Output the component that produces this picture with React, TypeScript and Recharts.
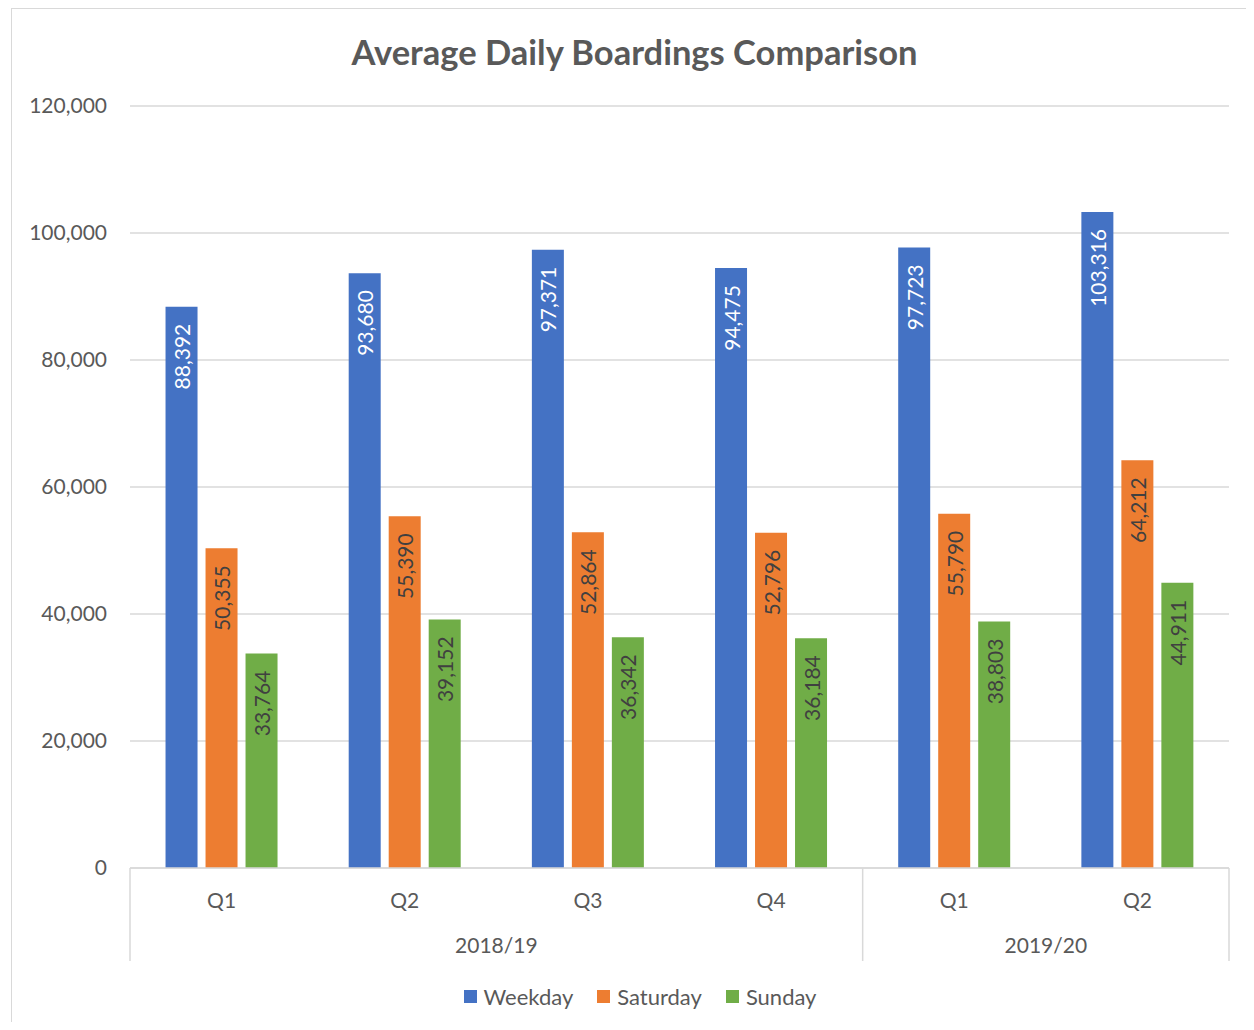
import React from 'react';
import { BarChart, Bar, XAxis, YAxis, CartesianGrid, LabelList, Legend } from 'recharts';

const quarters = ['Q1', 'Q2', 'Q3', 'Q4', 'Q1', 'Q2'];
const fiscalYears = ['2018/19', '2018/19', '2018/19', '2018/19', '2019/20', '2019/20'];
const weekday = [88392, 93680, 97371, 94475, 97723, 103316];
const saturday = [50355, 55390, 52864, 52796, 55790, 64212];
const sunday = [33764, 39152, 36342, 36184, 38803, 44911];
const yTicks = [0, 20000, 40000, 60000, 80000, 100000, 120000];
const seriesNames = ['Weekday', 'Saturday', 'Sunday'];
const seriesColors = ['#4472C4', '#ED7D31', '#70AD47'];
const labelColors = ['#FFFFFF', '#404040', '#404040'];
const title = 'Average Daily Boardings Comparison';

const FONT = "Lato, 'Open Sans', sans-serif";
const TXT = '#595959';
const GRID = '#d9d9d9';
const Q_AXIS_H = 50;
const Y_AXIS_H = 45;

const data = quarters.map((q, i) => ({
  key: `${fiscalYears[i]} ${q}`,
  quarter: q,
  pos: i + 0.5,
  Weekday: weekday[i],
  Saturday: saturday[i],
  Sunday: sunday[i],
}));

const groups: { label: string; start: number; end: number }[] = [];
fiscalYears.forEach((y, i) => {
  const last = groups[groups.length - 1];
  if (last && last.label === y) last.end = i + 1;
  else groups.push({ label: y, start: i, end: i + 1 });
});
const boundaryTicks = [0, ...groups.map((g) => g.end)];
const centerTicks = groups.map((g) => (g.start + g.end) / 2);
const yearTicks = [...boundaryTicks, ...centerTicks].sort((a, b) => a - b);

const fmt = (v: number) => Number(v).toLocaleString('en-US');

const makeLabel = (color: string) => (props: any) => {
  const { x, y, width, value } = props;
  const cx = Number(x) + Number(width) / 2;
  const ty = Number(y) + 17;
  return (
    <text
      x={cx}
      y={ty}
      transform={`rotate(-90 ${cx} ${ty})`}
      textAnchor="end"
      dominantBaseline="central"
      fill={color}
      fontSize={21}
      fontFamily={FONT}
    >
      {fmt(value)}
    </text>
  );
};

const QuarterTick = (props: any) => {
  const { x, y, payload } = props;
  const row = data.find((d) => d.key === payload.value);
  return (
    <text x={x} y={y + 39.5} textAnchor="middle" fill={TXT} fontSize={21} fontFamily={FONT}>
      {row ? row.quarter : ''}
    </text>
  );
};

const YearTick = (props: any) => {
  const { x, y, payload } = props;
  const v = payload.value;
  if (boundaryTicks.includes(v)) {
    return <line x1={x} x2={x} y1={y - Q_AXIS_H} y2={y + 43} stroke={GRID} strokeWidth={1.5} />;
  }
  const g = groups.find((gg) => (gg.start + gg.end) / 2 === v);
  return (
    <text x={x} y={y + 35} textAnchor="middle" fill={TXT} fontSize={21} fontFamily={FONT}>
      {g ? g.label : ''}
    </text>
  );
};

const LegendContent = () => (
  <div
    style={{
      display: 'flex',
      justifyContent: 'center',
      alignItems: 'center',
      height: 30,
      fontFamily: FONT,
      fontSize: 22,
      color: TXT,
    }}
  >
    {seriesNames.map((n, i) => (
      <div key={n} style={{ display: 'flex', alignItems: 'center', marginRight: i < seriesNames.length - 1 ? 24 : 0 }}>
        <span style={{ width: 13, height: 13, background: seriesColors[i], display: 'inline-block', marginRight: 7 }} />
        <span>{n}</span>
      </div>
    ))}
  </div>
);

export default function App() {
  const W = 1246;
  const H = 1014;
  return (
    <div style={{ position: 'relative', width: W, height: H, background: '#fff' }}>
      <div
        style={{
          position: 'absolute',
          left: 3,
          top: 0,
          width: W - 3,
          height: H,
          borderLeft: `1px solid ${GRID}`,
          borderTop: `1px solid ${GRID}`,
          boxSizing: 'border-box',
        }}
      />
      <div
        style={{
          position: 'absolute',
          left: 626.5,
          top: 43,
          transform: 'translate(-50%, -50%)',
          whiteSpace: 'nowrap',
          fontFamily: FONT,
          fontWeight: 700,
          fontSize: 34.5,
          color: TXT,
        }}
      >
        {title}
      </div>
      <BarChart
        width={W}
        height={H}
        data={data}
        margin={{ top: 98, right: 25, left: 0, bottom: H - 860 - Q_AXIS_H - Y_AXIS_H }}
        barCategoryGap="19.4%"
        barGap={8}
      >
        <CartesianGrid vertical={false} stroke={GRID} strokeWidth={1.3} />
        <YAxis
          width={122}
          domain={[0, 120000]}
          ticks={yTicks}
          tickFormatter={fmt}
          axisLine={false}
          tickLine={false}
          tickSize={0}
          tickMargin={23}
          tick={{ fill: TXT, fontSize: 21, fontFamily: FONT }}
          interval={0}
        />
        <XAxis
          dataKey="key"
          height={Q_AXIS_H}
          interval={0}
          tickLine={false}
          tickSize={0}
          tickMargin={0}
          axisLine={{ stroke: GRID, strokeWidth: 1.5 }}
          tick={<QuarterTick />}
        />
        <XAxis
          xAxisId="year"
          type="number"
          dataKey="pos"
          domain={[0, quarters.length]}
          allowDataOverflow
          ticks={yearTicks}
          interval={0}
          height={Y_AXIS_H}
          axisLine={false}
          tickLine={false}
          tickSize={0}
          tickMargin={0}
          tick={<YearTick />}
        />
        {seriesNames.map((n, i) => (
          <Bar key={n} dataKey={n} fill={seriesColors[i]} isAnimationActive={false}>
            <LabelList dataKey={n} content={makeLabel(labelColors[i])} />
          </Bar>
        ))}
        <Legend
          verticalAlign="middle"
          align="center"
          layout="horizontal"
          content={<LegendContent />}
          wrapperStyle={{ top: 973, left: 9, width: W, bottom: 'auto' }}
        />
      </BarChart>
    </div>
  );
}
